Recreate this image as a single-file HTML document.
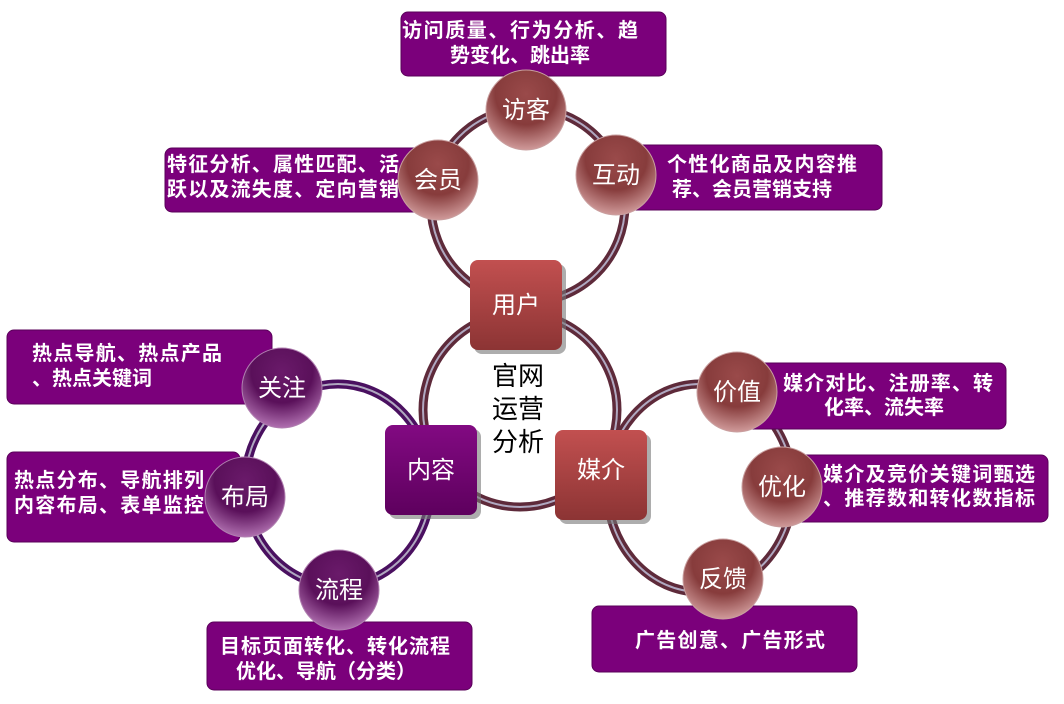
<!DOCTYPE html>
<html><head><meta charset="utf-8"><style>
html,body{margin:0;padding:0;background:#fff;}
svg text{font-family:"Liberation Sans","Noto Sans CJK SC",sans-serif;}
</style></head><body>
<svg width="1064" height="699" viewBox="0 0 1064 699" xmlns="http://www.w3.org/2000/svg">
<defs>
<radialGradient id="rc" cx="50%" cy="30%" r="70%">
<stop offset="0" stop-color="#9a4a4a"/><stop offset="0.55" stop-color="#873c3c"/><stop offset="1" stop-color="#d09a9a"/>
</radialGradient>
<radialGradient id="pc" cx="50%" cy="30%" r="70%">
<stop offset="0" stop-color="#6a1a6a"/><stop offset="0.55" stop-color="#5a105a"/><stop offset="1" stop-color="#b070b0"/>
</radialGradient>
<linearGradient id="rb" x1="0" y1="0" x2="0" y2="1">
<stop offset="0" stop-color="#c25050"/><stop offset="1" stop-color="#8c3434"/>
</linearGradient>
<linearGradient id="pb" x1="0" y1="0" x2="0" y2="1">
<stop offset="0" stop-color="#820a82"/><stop offset="1" stop-color="#5e005e"/>
</linearGradient>
</defs>
<g fill="none">
<circle cx="528" cy="205" r="97" stroke="#5e2a3a" stroke-width="9"/>
<circle cx="528" cy="205" r="97" stroke="#b0a8c0" stroke-width="2"/>
<circle cx="520" cy="410" r="97" stroke="#5e2a3a" stroke-width="9"/>
<circle cx="520" cy="410" r="97" stroke="#b0a8c0" stroke-width="2"/>
<ellipse cx="338" cy="485" rx="93" ry="101" stroke="#4a1060" stroke-width="9"/>
<ellipse cx="338" cy="485" rx="93" ry="101" stroke="#b0a8c0" stroke-width="2"/>
<ellipse cx="700" cy="488" rx="93" ry="104" stroke="#5e2a3a" stroke-width="9"/>
<ellipse cx="700" cy="488" rx="93" ry="104" stroke="#b0a8c0" stroke-width="2"/>
</g>
<g fill="#7b007b" stroke="#5a005a" stroke-width="1">
<rect x="401" y="12" width="265" height="64" rx="7"/>
<rect x="165" y="148" width="265" height="64" rx="7"/>
<rect x="600" y="145" width="282" height="65" rx="7"/>
<rect x="7" y="330" width="265" height="74" rx="7"/>
<rect x="7" y="452" width="233" height="90" rx="7"/>
<rect x="207" y="622" width="265" height="68" rx="7"/>
<rect x="735" y="363" width="271" height="66" rx="7"/>
<rect x="780" y="455" width="268" height="67" rx="7"/>
<rect x="592" y="606" width="265" height="66" rx="7"/>
</g>
<g fill="#fff" font-size="20" font-weight="bold">
<text x="520" y="37" text-anchor="middle" textLength="236">访问质量、行为分析、趋</text>
<text x="520" y="62" text-anchor="middle">势变化、跳出率</text>
<text x="167" y="171" textLength="232">特征分析、属性匹配、活</text>
<text x="167" y="196" textLength="232">跃以及流失度、定向营销</text>
<text x="667" y="171" textLength="190">个性化商品及内容推</text>
<text x="672" y="196">荐、会员营销支持</text>
<text x="32" y="360" textLength="190">热点导航、热点产品</text>
<text x="32" y="385">、热点关键词</text>
<text x="14" y="487" textLength="190">热点分布、导航排列</text>
<text x="14" y="512" textLength="190">内容布局、表单监控</text>
<text x="220" y="653" textLength="230">目标页面转化、转化流程</text>
<text x="236" y="678">优化、导航（分类）</text>
<text x="783" y="390" textLength="210">媒介对比、注册率、转</text>
<text x="824" y="414">化率、流失率</text>
<text x="823" y="481" textLength="212">媒介及竞价关键词甄选</text>
<text x="823" y="505" textLength="212">、推荐数和转化数指标</text>
<text x="635" y="647" textLength="190">广告创意、广告形式</text>
</g>
<g>
<rect x="474" y="264" width="92" height="90" rx="8" fill="#777" opacity="0.6"/>
<rect x="470" y="260" width="92" height="90" rx="8" fill="url(#rb)"/>
<rect x="389" y="429" width="92" height="90" rx="8" fill="#777" opacity="0.6"/>
<rect x="385" y="425" width="92" height="90" rx="8" fill="url(#pb)"/>
<rect x="559" y="434" width="92" height="90" rx="8" fill="#777" opacity="0.6"/>
<rect x="555" y="430" width="92" height="90" rx="8" fill="url(#rb)"/>
</g>
<g stroke="#c9a0a0" stroke-width="1">
<circle cx="526" cy="110" r="40" fill="url(#rc)"/>
<circle cx="438" cy="180" r="40" fill="url(#rc)"/>
<circle cx="616" cy="175" r="40" fill="url(#rc)"/>
<circle cx="737" cy="392" r="40" fill="url(#rc)"/>
<circle cx="782" cy="487" r="40" fill="url(#rc)"/>
<circle cx="723" cy="579" r="40" fill="url(#rc)"/>
</g>
<g stroke="#b080b0" stroke-width="1">
<circle cx="282" cy="388" r="40" fill="url(#pc)"/>
<circle cx="245" cy="497" r="40" fill="url(#pc)"/>
<circle cx="339" cy="590" r="40" fill="url(#pc)"/>
</g>
<g fill="#fff" font-size="24" text-anchor="middle">
<text x="526" y="118">访客</text>
<text x="438" y="188">会员</text>
<text x="616" y="183">互动</text>
<text x="737" y="400">价值</text>
<text x="782" y="495">优化</text>
<text x="723" y="587">反馈</text>
<text x="282" y="396">关注</text>
<text x="245" y="505">布局</text>
<text x="339" y="598">流程</text>
<text x="516" y="313">用户</text>
<text x="431" y="478">内容</text>
<text x="601" y="478">媒介</text>
</g>
<g fill="#000" font-size="26" text-anchor="middle">
<text x="518" y="385">官网</text>
<text x="518" y="418">运营</text>
<text x="518" y="451">分析</text>
</g>
</svg>
</body></html>
